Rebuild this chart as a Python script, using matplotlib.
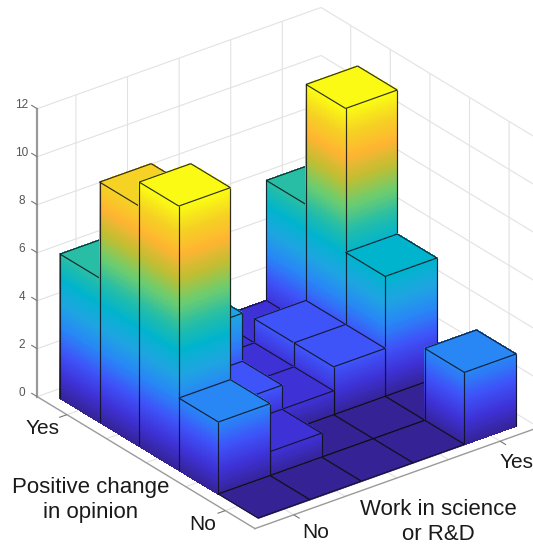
import matplotlib
matplotlib.use("Agg")
import matplotlib.pyplot as plt
import numpy as np
from matplotlib.colors import LinearSegmentedColormap
from mpl_toolkits.mplot3d import proj3d
from mpl_toolkits.mplot3d.art3d import Line3DCollection, Poly3DCollection

# counts, one list per opinion level (back to front), columns are work level
opinion_1 = [6, 3, 1, 1, 6]
opinion_2 = [10, 4, 1, 2, 11]
opinion_3 = [11, 2, 1, 2, 5]
opinion_4 = [3, 1, 0, 0, 0]
opinion_5 = [0, 0, 0, 0, 3]
rows = [opinion_1, opinion_2, opinion_3, opinion_4, opinion_5]

levels = [1, 2, 3, 4, 5]
labelled_levels = [1, 5]
z_ticks = [0, 2, 4, 6, 8, 10, 12]

WIDTH, HEIGHT = 533, 547
LO, HI = 0.25, 5.75

plt.rcParams["font.family"] = ["Liberation Sans", "DejaVu Sans"]
plt.rcParams["grid.color"] = "#e2e2e2"
plt.rcParams["grid.linewidth"] = 0.8

height_colors = ["#352396", "#3e32d7", "#3e55fa", "#2887f5", "#1ea5e1", "#00b4cd",
                 "#28bea5", "#6ecd6e", "#bebe32", "#ffb432", "#f5d223", "#fafa14"]
cmap = LinearSegmentedColormap.from_list("height", height_colors)


def color_at(z):
    return cmap(z / 11)


def draw_bar(ax, x0, y0, h, order):
    x1, y1 = x0 + 1, y0 + 1
    polys, colors = [], []

    if h > 0:
        zs = np.linspace(0, h, int(h * 12) + 1)
        for lo, hi in zip(zs[:-1], zs[1:]):
            polys.append([(x1, y0, lo), (x1, y1, lo), (x1, y1, hi), (x1, y0, hi)])
            colors.append(color_at((lo + hi) / 2))
            polys.append([(x0, y0, lo), (x1, y0, lo), (x1, y0, hi), (x0, y0, hi)])
            colors.append(color_at((lo + hi) / 2))
    polys.append([(x0, y0, h), (x1, y0, h), (x1, y1, h), (x0, y1, h)])
    colors.append(color_at(h))

    faces = Poly3DCollection(polys, facecolors=colors, edgecolors=colors, linewidths=0.5, antialiased=False)
    faces.set_zorder(order)
    ax.add_collection3d(faces, autolim=False)

    top = [(x0, y0, h), (x1, y0, h), (x1, y1, h), (x0, y1, h), (x0, y0, h)]
    segments = [[top[k], top[k + 1]] for k in range(4)]
    if h > 0:
        segments += [[(x0, y0, 0), (x0, y0, h)], [(x1, y0, 0), (x1, y0, h)], [(x1, y1, 0), (x1, y1, h)]]
    # the outer rim of the floor has no visible outline
    if x1 < 5.5:
        segments.append([(x1, y0, 0), (x1, y1, 0)])
    if y0 > 0.5:
        segments.append([(x0, y0, 0), (x1, y0, 0)])
    edges = Line3DCollection(segments, colors="#101018", linewidths=0.85, alpha=0.85)
    edges.set_zorder(order + 0.5)
    ax.add_collection3d(edges, autolim=False)


fig = plt.figure(figsize=(WIDTH / 100, HEIGHT / 100), dpi=100, facecolor="white")
ax = fig.add_axes([0, 0, 1, 1], projection="3d", computed_zorder=False)
ax.set_proj_type("ortho")
ax.view_init(elev=27.7, azim=-37.5)
ax.set_box_aspect((5.5, 5.5, 5.0))
ax.set_xlim(LO, HI)
ax.set_ylim(LO, HI)
ax.set_zlim(0, 12)

order = 1
for i in range(5):
    for j in reversed(range(5)):
        draw_bar(ax, i + 0.5, j + 0.5, rows[i][j], order)
        order += 1

ax.set_xticks(levels, [""] * 5)
ax.set_yticks(levels, [""] * 5)
ax.set_zticks(z_ticks, [""] * 7)
ax.zaxis.set_ticks_position("lower")

for axis in (ax.xaxis, ax.yaxis, ax.zaxis):
    axis.set_pane_color((1, 1, 1, 1))
    axis.pane.set_edgecolor("none")
    axis.line.set_color("#9a9a9a")
    axis.line.set_linewidth(1.0)
    axis._axinfo["tick"].update({"inward_factor": 0.0, "outward_factor": 0.0})
ax.zaxis.line.set_linewidth(1.6)

# tick marks by hand, mplot3d only points them along its own fixed directions
tick_segments = [[(LO, LO, z), (LO - 0.15, LO, z)] for z in z_ticks]
tick_segments += [[(v, LO, 0), (v, LO - 0.15, 0)] for v in labelled_levels]
tick_segments += [[(HI, v, 0), (HI + 0.15, v, 0)] for v in labelled_levels]
tick_marks = Line3DCollection(tick_segments, colors="#777777", linewidths=0.8)
tick_marks.set_zorder(0)
ax.add_collection3d(tick_marks, autolim=False)


# place the axes so the floor grid lands where it does in the reference
def axes_fraction(x, y, z):
    px, py, _ = proj3d.proj_transform(x, y, z, ax.get_proj())
    return ax.transLimits.transform((px, py))


left_frac = axes_fraction(0.5, 0.5, 0)
front_frac = axes_fraction(5.5, 0.5, 0)
right_frac = axes_fraction(5.5, 5.5, 0)
size = (516 - 60) / (right_frac[0] - left_frac[0])
x_off = 60 - size * left_frac[0]
y_off = (HEIGHT - 518) - size * front_frac[1]
ax.set_position([x_off / WIDTH, y_off / HEIGHT, size / WIDTH, size / HEIGHT])

# z labels as figure text at the projected spot next to each tick
for z in z_ticks:
    fx, fy = axes_fraction(LO - 0.25, LO - 0.11, z)
    fig.text((x_off + size * fx) / WIDTH, (y_off + size * fy) / HEIGHT, str(z), ha="center", va="center", fontsize=8.5, color="#555555")


def label_at(x, y, text, size):
    fig.text(x / WIDTH, 1 - y / HEIGHT, text, ha="center", va="center", fontsize=size, color="#1a1a1a", linespacing=1.3)


label_at(43, 429, "Yes", 15)
label_at(203, 525, "No", 15)
label_at(316, 533, "No", 15)
label_at(517, 463, "Yes", 15)
label_at(91, 500, "Positive change\nin opinion", 16)
label_at(438, 522, "Work in science\nor R&D", 16)

fig.savefig("out.png", dpi=100)
plt.close(fig)
